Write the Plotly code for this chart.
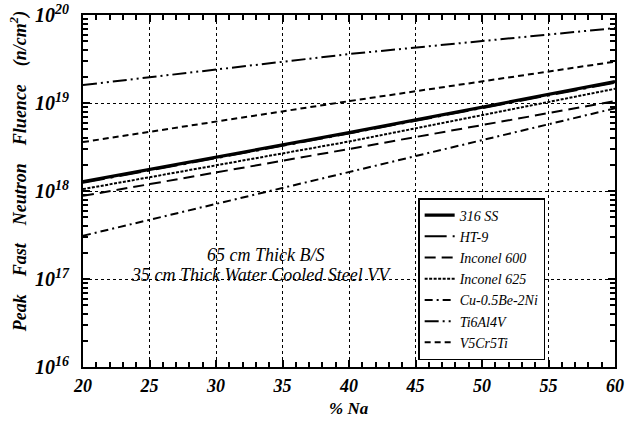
import plotly.graph_objects as go

na_pct = [20, 40, 60]
ss316 = [1.28e18, 4.6e18, 1.75e19]
ht9 = [1.24e18, 4.5e18, 1.7e19]
inconel600 = [8.8e17, 3.0e18, 1.05e19]
inconel625 = [1.05e18, 3.65e18, 1.45e19]
cu_be_ni = [3.1e17, 1.65e18, 8.7e18]
ti6al4v = [1.6e19, 3.6e19, 7.1e19]
v5cr5ti = [3.6e18, 1.05e19, 2.95e19]

names = ["316 SS", "HT-9", "Inconel 600", "Inconel 625", "Cu-0.5Be-2Ni", "Ti6Al4V", "V5Cr5Ti"]
series = [ss316, ht9, inconel600, inconel625, cu_be_ni, ti6al4v, v5cr5ti]
dashes = ["solid", "22px,6px,3px,6px", "11px,6px", "3px,1.5px", "8px,4px,2px,4px",
          "14px,4px,2px,4px,2px,4px", "6px,4px"]
widths = [3.2, 2, 2, 2, 2, 2, 2]

x_ticks = [20, 25, 30, 35, 40, 45, 50, 55, 60]
y_tickvals = [1e16, 1e17, 1e18, 1e19, 1e20]
y_ticktext = ["10<sup>16</sup>", "10<sup>17</sup>", "10<sup>18</sup>", "10<sup>19</sup>", "10<sup>20</sup>"]

serif = "Liberation Serif"
nb = "\u00a0" * 4
y_title = f"Peak{nb}Fast{nb}Neutron{nb}Fluence{nb}(n/cm<sup>2</sup>)"

fig = go.Figure()
for n, s, d, w in zip(names, series, dashes, widths):
    fig.add_trace(go.Scatter(x=na_pct, y=s, mode="lines", name=n,
                             line=dict(color="black", width=w, dash=d)))

axis_common = dict(
    showline=True, linecolor="black", linewidth=2, mirror="allticks",
    ticks="inside", ticklen=7, tickwidth=2, tickcolor="black",
    showgrid=True, gridcolor="black", gridwidth=1, griddash="dot",
    zeroline=False, automargin=False,
)

fig.update_xaxes(range=[20, 60], tickvals=x_ticks, ticklabelstandoff=1,
                 tickfont=dict(family=serif, size=18, color="black", weight="bold", style="italic"),
                 minor=dict(ticks="inside", ticklen=5, tickwidth=2, tickcolor="black", dtick=1, showgrid=False),
                 **axis_common)
fig.update_yaxes(type="log", range=[16, 20], tickvals=y_tickvals, ticktext=y_ticktext, ticklabelstandoff=8,
                 tickfont=dict(family=serif, size=20, color="black", weight="bold", style="italic"),
                 minor=dict(ticks="inside", ticklen=5, tickwidth=2, tickcolor="black", dtick="D1", showgrid=False),
                 **axis_common)

fig.add_annotation(x=-0.12, y=0.554, xref="paper", yref="paper", text=y_title, textangle=-90,
                   showarrow=False, xanchor="center", yanchor="middle",
                   font=dict(family=serif, size=18, color="black", weight="bold", style="italic"))
fig.add_annotation(x=0.5, y=-0.118, xref="paper", yref="paper", text="% Na",
                   showarrow=False, xanchor="center", yanchor="middle",
                   font=dict(family=serif, size=17, color="black", weight="bold", style="italic"))

fig.add_annotation(x=33.7, y=0.283, xref="x", yref="paper", text="65 cm Thick B/S", showarrow=False,
                   font=dict(family=serif, size=18, color="black", style="italic"))
fig.add_annotation(x=33.4, y=0.228, xref="x", yref="paper", text="35 cm Thick Water Cooled Steel VV", showarrow=False,
                   font=dict(family=serif, size=18, color="black", style="italic"))

fig.update_layout(
    width=629, height=425,
    margin=dict(l=83, r=14, t=15, b=58),
    paper_bgcolor="white", plot_bgcolor="white",
    showlegend=True,
    legend=dict(x=0.63, y=0.48, xanchor="left", yanchor="top",
                bgcolor="white", bordercolor="black", borderwidth=1.5,
                font=dict(family=serif, size=14, color="black", style="italic"),
                tracegroupgap=0),
)

fig.write_html("out.html", config={"displayModeBar": False},
               post_script="document.body.style.margin='0';document.body.style.overflow='hidden';")
